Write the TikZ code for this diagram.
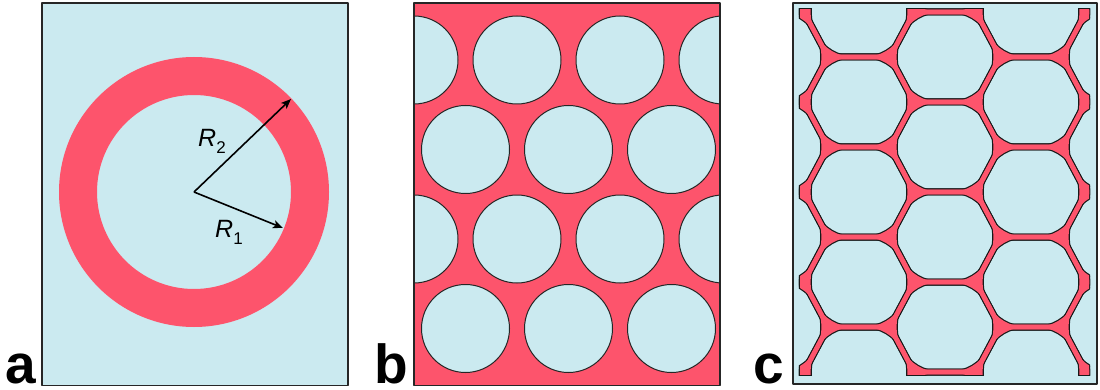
\documentclass[tikz,border=0pt]{standalone}
\usepackage{fontspec}
\setmainfont{Liberation Sans}
\usetikzlibrary{arrows.meta}
\definecolor{cblue}{RGB}{203,234,240}
\definecolor{cred}{RGB}{253,84,108}
\definecolor{cline}{RGB}{25,25,25}
\begin{document}
\begin{tikzpicture}[x=1pt,y=-1pt,line join=round,
  panel/.style={draw=black!85,line width=1.5pt},
  hole/.style={fill=cblue,draw=black!85,line width=1pt},
  radiusarrow/.style={-{Stealth[length=10pt,width=8pt,inset=2.5pt]},line width=1.6pt},
  panellabel/.style={anchor=base west,inner sep=0,font=\fontsize{55}{55}\selectfont\bfseries},
  rlabel/.style={anchor=base west,inner sep=0,font=\fontsize{25}{25}\selectfont},
  % honeycomb centre-line cell: a=31, b=55, h=45
  hexwall/.style 2 args={insert path={(#1-31,#2-45) -- (#1+31,#2-45) -- (#1+55,#2) -- (#1+31,#2+45) -- (#1-31,#2+45) -- (#1-55,#2) -- cycle}},
  % Plateau border (concave triangle) at the left (L) / right (R) pointed vertex of a cell
  plateauL/.style 2 args={insert path={(#1-55-26,#2) .. controls (#1-55-9.88,#2) and (#1-55+4.65,#2-8.72) .. (#1-55+12.24,#2-22.94) .. controls (#1-55+4.65,#2-8.72) and (#1-55+4.65,#2+8.72) .. (#1-55+12.24,#2+22.94) .. controls (#1-55+4.65,#2+8.72) and (#1-55-9.88,#2) .. (#1-55-26,#2) -- cycle}},
  plateauR/.style 2 args={insert path={(#1+55+26,#2) .. controls (#1+55+9.88,#2) and (#1+55-4.65,#2-8.72) .. (#1+55-12.24,#2-22.94) .. controls (#1+55-4.65,#2-8.72) and (#1+55-4.65,#2+8.72) .. (#1+55-12.24,#2+22.94) .. controls (#1+55-4.65,#2+8.72) and (#1+55+9.88,#2) .. (#1+55+26,#2) -- cycle}},
  wallblack/.style={draw=cline,line width=7pt},
  wallred/.style={draw=cred,line width=4.6pt},
  pbblack/.style={fill=cline,draw=cline,line width=2.4pt},
  pbred/.style={fill=cred}]
\useasboundingbox (0,0) rectangle (1100,390);

% ---------- panel a ----------
\fill[cblue] (42,3) rectangle (348,385.5);
\fill[cred,even odd rule] (194,192) circle[radius=135] (194,192) circle[radius=97];
\draw[panel] (42,3) rectangle (348,385.5);
\coordinate (ctr) at (194,192);
\coordinate (r2end) at (291,99);
\coordinate (r1end) at (283,228);
\draw[radiusarrow] (ctr) -- (r2end);
\draw[radiusarrow] (ctr) -- (r1end);
\node[rlabel] (lbR2) at (198,147) {\itshape R\upshape\raisebox{-7pt}{\fontsize{17}{17}\selectfont 2}};
\node[rlabel] (lbR1) at (215,237) {\itshape R\upshape\raisebox{-7pt}{\fontsize{17}{17}\selectfont 1}};
\node[panellabel] (la) at (5,383) {a};

% ---------- panel b ----------
\begin{scope}
  \clip (414,3) rectangle (720,385.5);
  \fill[cred] (414,3) rectangle (720,385.5);
  \foreach \y in {60,239} \foreach \x in {414,517,620,723} \draw[hole] (\x,\y) circle[radius=44];
  \foreach \y in {149.5,328.5} \foreach \x in {465.5,568.5,671.5} \draw[hole] (\x,\y) circle[radius=44];
\end{scope}
\draw[panel] (414,3) rectangle (720,385.5);
\node[panellabel] (lb) at (374,383) {b};

% ---------- panel c ----------
\fill[cblue] (793,3) rectangle (1097,384);
% black layer (outlines)
\begin{scope}
  \clip (798.8,8.8) rectangle (1090.2,375.2);
  \foreach \cx in {859,1031} \foreach \cy in {-78,12,102,192,282,372,462} {
    \path[wallblack,hexwall={\cx}{\cy}];
    \path[pbblack,plateauL={\cx}{\cy}];
    \path[pbblack,plateauR={\cx}{\cy}];
  }
  \foreach \cx in {773,945,1117} \foreach \cy in {-33,57,147,237,327,417} {
    \path[wallblack,hexwall={\cx}{\cy}];
    \path[pbblack,plateauL={\cx}{\cy}];
    \path[pbblack,plateauR={\cx}{\cy}];
  }
\end{scope}
% red layer
\begin{scope}
  \clip (800,10) rectangle (1089,374);
  \foreach \cx in {859,1031} \foreach \cy in {-78,12,102,192,282,372,462} {
    \path[wallred,hexwall={\cx}{\cy}];
    \path[pbred,plateauL={\cx}{\cy}];
    \path[pbred,plateauR={\cx}{\cy}];
  }
  \foreach \cx in {773,945,1117} \foreach \cy in {-33,57,147,237,327,417} {
    \path[wallred,hexwall={\cx}{\cy}];
    \path[pbred,plateauL={\cx}{\cy}];
    \path[pbred,plateauR={\cx}{\cy}];
  }
\end{scope}
\draw[panel] (793,3) rectangle (1097,384);
\node[panellabel] (lc) at (753,383) {c};
\end{tikzpicture}
\end{document}
